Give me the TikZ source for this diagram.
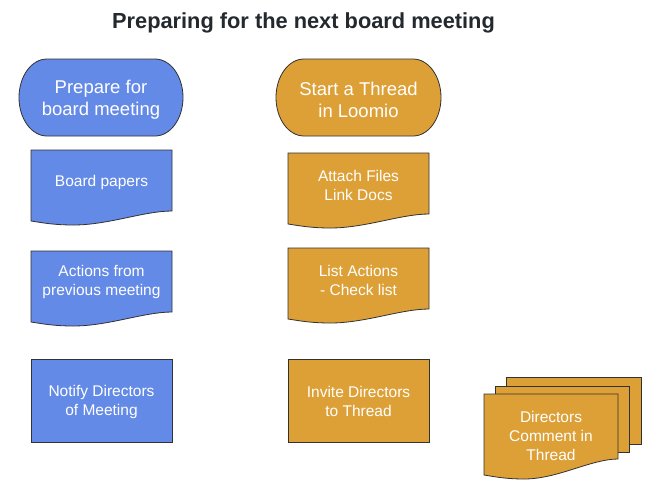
\documentclass[tikz,border=0pt]{standalone}
\usepackage{fontspec}
\setmainfont{Liberation Sans}
\definecolor{bluefill}{RGB}{100,138,231}
\definecolor{orangefill}{RGB}{221,160,55}
\definecolor{edgecol}{RGB}{50,50,50}
\definecolor{titlecol}{RGB}{36,41,46}
\newcommand{\mydoc}[6]{%
\pgfmathsetmacro{\dw}{#3-#1}%
\pgfmathsetmacro{\ca}{#3-0.2*\dw}%
\pgfmathsetmacro{\cb}{#1+0.55*\dw}%
\pgfmathsetmacro{\cm}{#1+0.3*\dw}%
\pgfmathsetmacro{\cc}{#1+0.15*\dw}%
\pgfmathsetmacro{\cd}{#1+0.05*\dw}%
\pgfmathsetmacro{\yd}{#5+4}%
\pgfmathsetmacro{\ye}{#5+1}%
\draw[#6] (#1,#2) -- (#3,#2) -- (#3,#4) .. controls (\ca,#4) and (\cb,\yd) .. (\cm,\yd) .. controls (\cc,\yd) and (\cd,\ye) .. (#1,#5) -- cycle;}
\tikzset{
  shapeline/.style={draw=edgecol, line width=0.8pt},
  bluebox/.style={shapeline, fill=bluefill},
  orangebox/.style={shapeline, fill=orangefill},
  boxtext/.style={text=white, align=center, inner sep=0pt, font=\fontsize{15.5}{19}\selectfont},
  termtext/.style={text=white, align=center, inner sep=0pt, font=\fontsize{18.5}{22}\selectfont},
}
\begin{document}
\begin{tikzpicture}[x=1pt,y=-1pt]
\useasboundingbox[fill=white] (0,0) rectangle (669,496);
% title
\node[text=titlecol, font=\fontsize{21.8}{26}\selectfont\bfseries, inner sep=0pt] (title) at (303.5,23) {Preparing for the next board meeting};
% blue terminal
\draw[bluebox] (47,59) -- (155,59) .. controls (170.5,59) and (183,76.2) .. (183,97.5) .. controls (183,118.8) and (170.5,136) .. (155,136) -- (47,136) .. controls (31.5,136) and (19,118.8) .. (19,97.5) .. controls (19,76.2) and (31.5,59) .. (47,59) -- cycle;
\node[termtext] (prep) at (101,99.5) {Prepare for\\board meeting};
% orange terminal
\draw[orangebox] (304,59) -- (413,59) .. controls (428.5,59) and (441,76.2) .. (441,97.5) .. controls (441,118.8) and (428.5,136) .. (413,136) -- (304,136) .. controls (288.5,136) and (276,118.8) .. (276,97.5) .. controls (276,76.2) and (288.5,59) .. (304,59) -- cycle;
\node[termtext] (start) at (358.5,99.5) {Start a Thread\\in Loomio};
% blue documents
\mydoc{31}{150}{172}{211}{221}{bluebox}
\node[boxtext] (papers) at (101.5,182) {Board papers};
\mydoc{31}{251}{172}{312}{322}{bluebox}
\node[boxtext] (actions) at (101.5,282) {Actions from\\previous meeting};
\draw[bluebox] (31,359) rectangle (172,442);
\node[boxtext] (notify) at (101.5,401.5) {Notify Directors\\of Meeting};
% orange documents
\mydoc{288}{153}{429}{214}{224}{orangebox}
\node[boxtext] (attach) at (358.5,185.5) {Attach Files\\Link Docs};
\mydoc{288}{248}{429}{309}{319}{orangebox}
\node[boxtext] (list) at (358.5,280) {List Actions\\- Check list};
\draw[orangebox] (288,359) rectangle (429,442);
\node[boxtext] (invite) at (358.5,401.5) {Invite Directors\\to Thread};
% multi document
\draw[orangebox] (506,377) rectangle (641,444);
\draw[orangebox] (495,386) rectangle (629,452);
\mydoc{484}{394}{618}{459}{475}{orangebox}
\node[boxtext] (comment) at (551,436) {Directors\\Comment in\\Thread};
\end{tikzpicture}
\end{document}
